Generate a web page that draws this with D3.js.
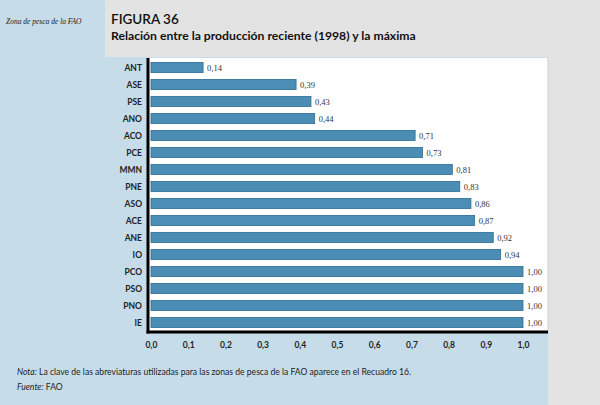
<!DOCTYPE html>
<html>
<head>
<meta charset="utf-8">
<script src="https://cdn.jsdelivr.net/npm/d3@7"></script>
<style>
  body { margin: 0; padding: 0; }
  svg { display: block; }
</style>
</head>
<body>
<div id="chart"></div>
<script>
// data
var zones = ["ANT", "ASE", "PSE", "ANO", "ACO", "PCE", "MMN", "PNE", "ASO", "ACE", "ANE", "IO", "PCO", "PSO", "PNO", "IE"];
var ratios = [0.14, 0.39, 0.43, 0.44, 0.71, 0.73, 0.81, 0.83, 0.86, 0.87, 0.92, 0.94, 1.00, 1.00, 1.00, 1.00];
var ticks = [0, 0.1, 0.2, 0.3, 0.4, 0.5, 0.6, 0.7, 0.8, 0.9, 1.0];

var W = 600, H = 405;
var fmt = function(v, n){ return v.toFixed(n).replace(".", ","); };

var svg = d3.select("#chart")
            .append("svg")
            .attr("width", W)
            .attr("height", H);

// BACKGROUND PANELS
svg.append("rect").attr("x", 0).attr("y", 0).attr("width", W).attr("height", H).attr("fill", "#c6dce9");
svg.append("rect").attr("x", 105).attr("y", 0).attr("width", W - 105).attr("height", 57).attr("fill", "#e3e3e3");
svg.append("rect").attr("x", 548).attr("y", 0).attr("width", W - 548).attr("height", H).attr("fill", "#e3e3e3");

// plot area
var pLeft = 148, pTop = 58, pRight = 548, pBottom = 332;
svg.append("rect")
   .attr("x", pLeft).attr("y", pTop)
   .attr("width", pRight - pLeft).attr("height", pBottom - pTop)
   .attr("fill", "#ffffff");
svg.append("line")
   .attr("x1", pRight).attr("y1", pTop).attr("x2", pRight).attr("y2", pBottom)
   .attr("stroke", "#d0d0d0").attr("stroke-width", 1);

var x = d3.scaleLinear().domain([0, 1]).range([151, 523]);
var y = d3.scaleBand().domain(zones).range([59, 331]).paddingInner(0.4).paddingOuter(0.2);

// BARS
var rows = zones.map(function(z, i){ return {zone: z, value: ratios[i]}; });

svg.selectAll("rect.bar")
   .data(rows)
   .enter()
   .append("rect")
   .attr("class", "bar")
   .attr("x", x(0))
   .attr("y", function(d){ return y(d.zone); })
   .attr("width", function(d){ return x(d.value) - x(0); })
   .attr("height", y.bandwidth())
   .attr("fill", "#4b8db4")
   .attr("stroke", "#2e6e94")
   .attr("stroke-width", 0.8);

svg.selectAll("text.val")
   .data(rows)
   .enter()
   .append("text")
   .attr("class", "val")
   .attr("x", function(d){ return x(d.value) + 4; })
   .attr("y", function(d){ return y(d.zone) + y.bandwidth() / 2 + 3; })
   .attr("font-family", "'Liberation Serif', serif")
   .attr("font-size", 8.5)
   .attr("fill", "#333")
   .text(function(d){ return fmt(d.value, 2); });

// category labels
svg.selectAll("text.cat")
   .data(zones)
   .enter()
   .append("text")
   .attr("class", "cat")
   .attr("x", 142)
   .attr("y", function(d){ return y(d) + y.bandwidth() / 2 + 3; })
   .attr("text-anchor", "end")
   .attr("font-family", "Lato, sans-serif")
   .attr("font-weight", "bold")
   .attr("font-size", 8.5)
   .attr("fill", "#222")
   .text(function(d){ return d; });

// AXES LINES
svg.append("line")
   .attr("x1", pLeft).attr("y1", pTop).attr("x2", pLeft).attr("y2", pBottom + 1.5)
   .attr("stroke", "#000").attr("stroke-width", 3);
svg.append("line")
   .attr("x1", pLeft - 1.5).attr("y1", pBottom).attr("x2", pRight).attr("y2", pBottom)
   .attr("stroke", "#000").attr("stroke-width", 3);

// x tick labels
var xAxis = d3.axisBottom(x)
              .tickValues(ticks)
              .tickSize(0)
              .tickPadding(0)
              .tickFormat(function(d){ return fmt(d, 1); });

var gx = svg.append("g")
            .attr("transform", "translate(0,342)")
            .call(xAxis);
gx.select(".domain").remove();
gx.selectAll("text")
  .attr("font-family", "Lato, sans-serif")
  .attr("font-weight", "bold")
  .attr("font-size", 8.5)
  .attr("fill", "#222");

// HEADER TEXT
svg.append("text")
   .attr("x", 6).attr("y", 24)
   .attr("font-family", "'Liberation Serif', serif")
   .attr("font-style", "italic")
   .attr("font-size", 7.5)
   .attr("fill", "#222")
   .text("Zona de pesca de la FAO");

svg.append("text")
   .attr("x", 111).attr("y", 24)
   .attr("font-family", "Lato, sans-serif")
   .attr("font-weight", 600)
   .attr("font-size", 13.5)
   .attr("fill", "#111")
   .text("FIGURA 36");

svg.append("text")
   .attr("x", 111).attr("y", 40)
   .attr("font-family", "Lato, sans-serif")
   .attr("font-weight", "bold")
   .attr("font-size", 12.2)
   .attr("fill", "#111")
   .text("Relación entre la producción reciente (1998) y la máxima");

// FOOTNOTES
var note = svg.append("text")
   .attr("x", 17).attr("y", 375)
   .attr("font-family", "Lato, sans-serif")
   .attr("font-size", 8.6)
   .attr("fill", "#222");
note.append("tspan").attr("font-style", "italic").text("Nota:");
note.append("tspan").text(" La clave de las abreviaturas utilizadas para las zonas de pesca de la FAO aparece en el Recuadro 16.");

var src = svg.append("text")
   .attr("x", 17).attr("y", 390)
   .attr("font-family", "Lato, sans-serif")
   .attr("font-size", 8.6)
   .attr("fill", "#222");
src.append("tspan").attr("font-style", "italic").text("Fuente:");
src.append("tspan").text(" FAO");
</script>
</body>
</html>
